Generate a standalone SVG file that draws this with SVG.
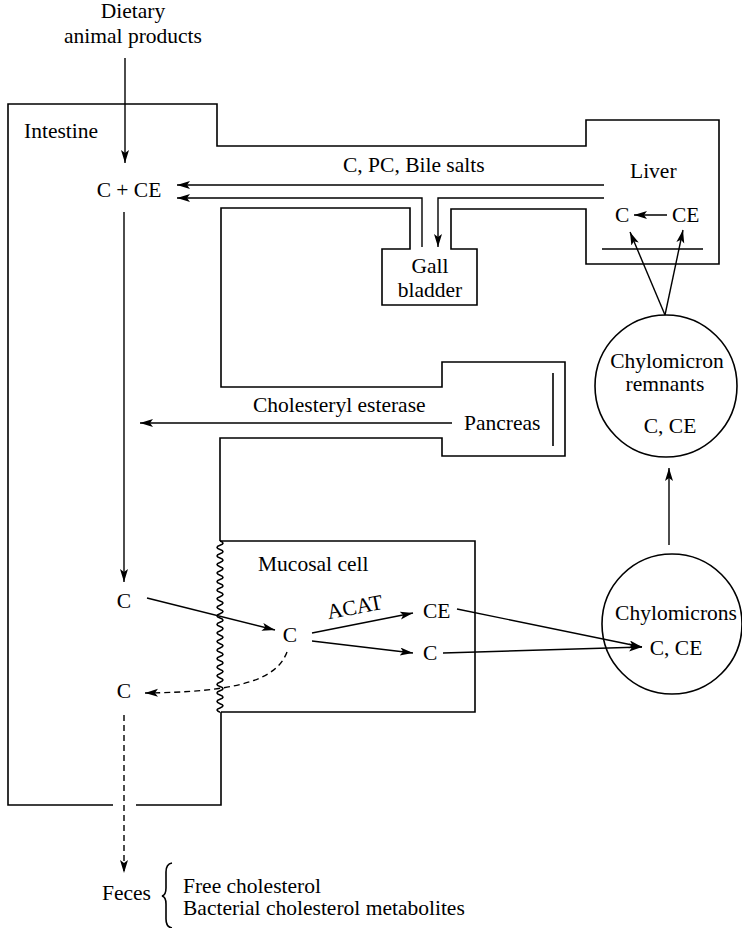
<svg xmlns="http://www.w3.org/2000/svg" width="742" height="928" viewBox="0 0 742 928">
<style>
text{font-family:"Liberation Serif","Times New Roman",serif;font-size:21.5px;fill:#000}
.m{text-anchor:middle}
.ln{fill:none;stroke:#000;stroke-width:1.6}
.ar{fill:none;stroke:#000;stroke-width:1.4;marker-end:url(#ah)}
.da{fill:none;stroke:#000;stroke-width:1.4;stroke-dasharray:6,4;marker-end:url(#ah)}
</style>
<defs>
<marker id="ah" markerUnits="userSpaceOnUse" markerWidth="14" markerHeight="10" refX="13" refY="4" orient="auto">
<path d="M0,0 L13,4 L0,8 L3,4 z" fill="#000"/>
</marker>
</defs>
<rect width="742" height="928" fill="#fff"/>

<g id="intestine">
<path class="ln" d="M113 805 H8 V104 H217 V146 H586 V120 H719 V264 H586 V209 H451 V249 H477 V305 H382 V249 H410 V208 H221 V387 H442 V362 H565 V456 H442 V438 H220 V541"/>
<path class="ln" d="M221 712 V805 H136"/>
<text x="24" y="138">Intestine</text>
</g>

<g id="liver">
<line class="ln" x1="602" y1="249" x2="703" y2="249"/>
<text x="630" y="178">Liver</text>
<text x="615" y="222">C</text>
<text x="672" y="222">CE</text>
</g>

<g id="gall-bladder">
<text class="m" x="430" y="273">Gall</text>
<text class="m" x="430" y="297">bladder</text>
</g>

<g id="pancreas">
<line class="ln" x1="553" y1="373" x2="553" y2="446"/>
<text x="464" y="430">Pancreas</text>
</g>

<g id="mucosal-cell">
<path class="ln" d="M220 541 H475 V712 H221"/>
<path class="ln" d="M220 541 q6 2.14 0 4.28 q-6 2.14 0 4.28 q6 2.14 0 4.28 q-6 2.14 0 4.28 q6 2.14 0 4.28 q-6 2.14 0 4.28 q6 2.14 0 4.28 q-6 2.14 0 4.28 q6 2.14 0 4.28 q-6 2.14 0 4.28 q6 2.14 0 4.28 q-6 2.14 0 4.28 q6 2.14 0 4.28 q-6 2.14 0 4.28 q6 2.14 0 4.28 q-6 2.14 0 4.28 q6 2.14 0 4.28 q-6 2.14 0 4.28 q6 2.14 0 4.28 q-6 2.14 0 4.28 q6 2.14 0 4.28 q-6 2.14 0 4.28 q6 2.14 0 4.28 q-6 2.14 0 4.28 q6 2.14 0 4.28 q-6 2.14 0 4.28 q6 2.14 0 4.28 q-6 2.14 0 4.28 q6 2.14 0 4.28 q-6 2.14 0 4.28 q6 2.14 0 4.28 q-6 2.14 0 4.28 q6 2.14 0 4.28 q-6 2.14 0 4.28 q6 2.14 0 4.28 q-6 2.14 0 4.28 q6 2.14 0 4.28 q-6 2.14 0 4.28 q6 2.14 0 4.28 q-6 2.14 0 4.28"/>
<text x="258" y="571">Mucosal cell</text>
<text class="m" x="290" y="642">C</text>
<text x="423" y="618">CE</text>
<text x="423" y="660">C</text>
<text class="m" x="356" y="614" transform="rotate(-11 356 614)">ACAT</text>
</g>

<g id="chylomicron-remnants">
<circle class="ln" cx="666" cy="386" r="71"/>
<text class="m" x="667" y="368">Chylomicron</text>
<text class="m" x="665" y="391">remnants</text>
<text class="m" x="670" y="433">C, CE</text>
</g>

<g id="chylomicrons">
<circle class="ln" cx="672" cy="624" r="70"/>
<text class="m" x="676" y="620">Chylomicrons</text>
<text class="m" x="676" y="655">C, CE</text>
</g>

<g id="lumen-labels">
<text class="m" x="133" y="18">Dietary</text>
<text class="m" x="133" y="43">animal products</text>
<text class="m" x="129" y="197">C + CE</text>
<text x="343" y="172">C, PC, Bile salts</text>
<text x="253" y="412">Cholesteryl esterase</text>
<text class="m" x="124" y="608">C</text>
<text class="m" x="124" y="698">C</text>
</g>

<g id="feces">
<text x="102" y="900">Feces</text>
<path class="ln" d="M172 863 Q166 864 166 872 V888 Q166 895 162 896 Q166 897 166 904 V919 Q166 927 172 928" stroke-width="1.3"/>
<text x="183" y="893">Free cholesterol</text>
<text x="183" y="915">Bacterial cholesterol metabolites</text>
</g>

<g id="connectors">
<line class="ar" x1="125" y1="58" x2="125" y2="163"/>
<line class="ar" x1="604" y1="185" x2="177" y2="185"/>
<path class="ar" d="M422 247 V198 H177"/>
<path class="ar" d="M604 198 H438 V247"/>
<line class="ar" x1="667" y1="215" x2="634" y2="215"/>
<line class="ar" x1="665" y1="315" x2="630" y2="232"/>
<line class="ar" x1="665" y1="315" x2="683" y2="230"/>
<line class="ar" x1="452" y1="423" x2="140" y2="423"/>
<line class="ar" x1="124" y1="212" x2="124" y2="582"/>
<line class="ar" x1="147" y1="598" x2="275" y2="630"/>
<line class="ar" x1="312" y1="633" x2="413" y2="613"/>
<line class="ar" x1="312" y1="641" x2="413" y2="653"/>
<line class="ar" x1="457" y1="609" x2="642" y2="647"/>
<line class="ar" x1="443" y1="653" x2="642" y2="647"/>
<line class="ar" x1="669" y1="545" x2="669" y2="468"/>
<path class="da" d="M287 652 C276 682 232 692 145 693"/>
<line class="da" x1="124" y1="715" x2="124" y2="873"/>
</g>
</svg>
